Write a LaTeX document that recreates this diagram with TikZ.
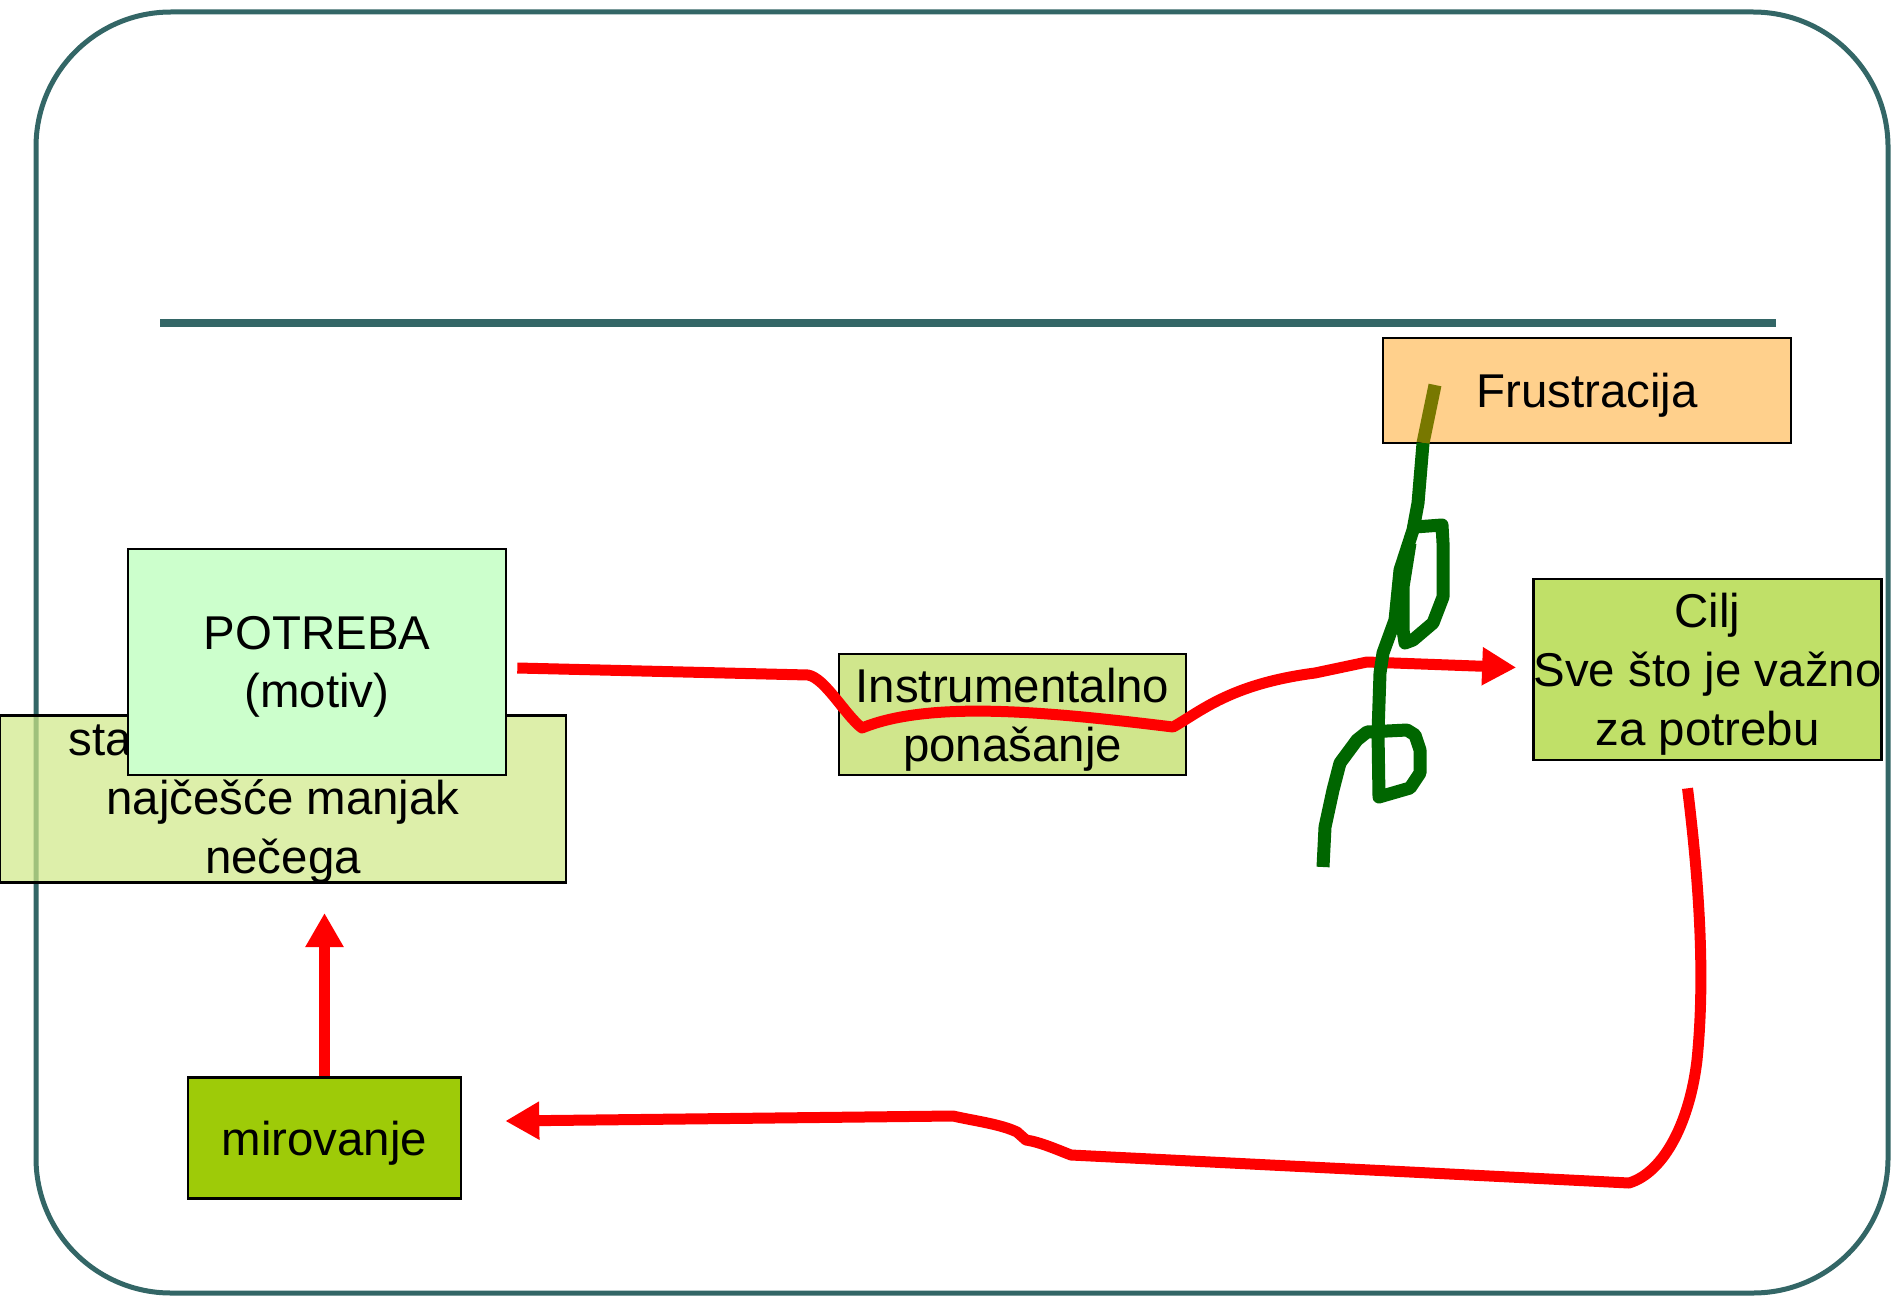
\documentclass[tikz,border=0pt]{standalone}
\usepackage{fontspec}
\setmainfont{Liberation Sans}
\usepackage{xcolor}
\usetikzlibrary{arrows.meta, positioning}

\definecolor{framecol}{HTML}{336666}
\definecolor{stanjecol}{HTML}{CEE886}
\definecolor{potrebacol}{HTML}{CCFFCC}
\definecolor{instrcol}{HTML}{D0E68C}
\definecolor{ciljcol}{HTML}{C0E068}
\definecolor{mircol}{HTML}{9ECB08}
\definecolor{frustcol}{HTML}{FFD08C}
\definecolor{scribblecol}{HTML}{006600}
\definecolor{olivecol}{HTML}{787800}

\newcommand{\upx}{0.02cm}

\begin{document}
\begin{tikzpicture}[
    x=0.02cm, y=-0.02cm,
    box/.style={rectangle, draw=black, line width=1.5pt, inner sep=0pt, align=center,
        font=\fontsize{27}{33.5}\selectfont, text depth=-3pt},
    flow/.style={draw=red, line width=0.22cm, line join=round},
    scribble/.style={draw=scribblecol, line width=0.26cm, line join=round},
    >={Triangle[length=0.68cm, width=0.72cm]}
]
    \useasboundingbox (0,0) rectangle (1892,1297);

    % frame and title rule
    \draw[framecol, line width=0.1cm, rounded corners=2.7cm] (36,12) rectangle (1888,1293);
    \draw[framecol, line width=0.16cm] (160,323) -- (1776,323);

    % boxes
    \node[box, fill=stanjecol, fill opacity=0.7, text opacity=1,
        minimum width=566*\upx, minimum height=167*\upx] (stanje) at (283,799)
        {sta\rule{7.3cm}{0pt}\\najčešće manjak\\nečega};
    \node[box, fill=potrebacol, minimum width=378*\upx, minimum height=226*\upx] (potreba) at (317,662)
        {POTREBA\\(motiv)};
    \node[box, fill=instrcol, minimum width=347*\upx, minimum height=121*\upx] (instr) at (1012.5,714.5)
        {Instrumentalno\\ponašanje};
    \node[box, fill=ciljcol, minimum width=347*\upx, minimum height=181*\upx] (cilj) at (1707.5,669.5)
        {Cilj\\Sve što je važno\\za potrebu};
    \node[box, fill=mircol, minimum width=273*\upx, minimum height=121*\upx] (mir) at (324.5,1138)
        {mirovanje};
    \node[box, fill=frustcol, minimum width=408*\upx, minimum height=105*\upx] (frust) at (1587,390.5)
        {Frustracija};

    % arrows
    \coordinate (uptip) at (324.5,913);
    \draw[flow, ->] (mir.north) -- (uptip);

    \draw[flow, ->] ([shift={(10,6)}]potreba.east) -- (808,675)
        .. controls (825,678) and (845,715) .. (862,728)
        .. controls (930,700) and (1050,712) .. (1173,727)
        .. controls (1200,712) and (1230,684) .. (1315,673)
        -- (1367,662) -- ([shift={(-16,-2)}]cilj.west);

    \draw[flow, ->] ([shift={(-20,27)}]cilj.south)
        .. controls (1700,890) and (1705,980) .. (1697,1060)
        .. controls (1690,1120) and (1665,1172) .. (1629,1183)
        -- (1071,1155)
        .. controls (1058,1150) and (1040,1142) .. (1026,1140)
        -- (1017,1132)
        .. controls (1000,1124) and (975,1121) .. (953,1116)
        -- ([shift={(43,-17)}]mir.east);

    % scribble across the path
    \draw[olivecol, line width=0.26cm] (1435,385) -- (1423,443);
    \draw[scribble] (1423,443) -- (1418,503) -- (1413,530) -- (1400,570) -- (1395,620)
        -- (1383,653) -- (1380,673) -- (1378,733) -- (1379,797) -- (1410,788) -- (1420,773)
        -- (1420,750) -- (1415,735) -- (1407,730) -- (1367,732) -- (1357,740) -- (1340,763)
        -- (1333,790) -- (1325,827) -- (1323,867);
    \draw[scribble] (1415,527) -- (1442,525) -- (1443,543) -- (1443,597) -- (1433,623)
        -- (1413,640) -- (1405,643) -- (1403,630) -- (1403,587) -- (1410,543);
\end{tikzpicture}
\end{document}
